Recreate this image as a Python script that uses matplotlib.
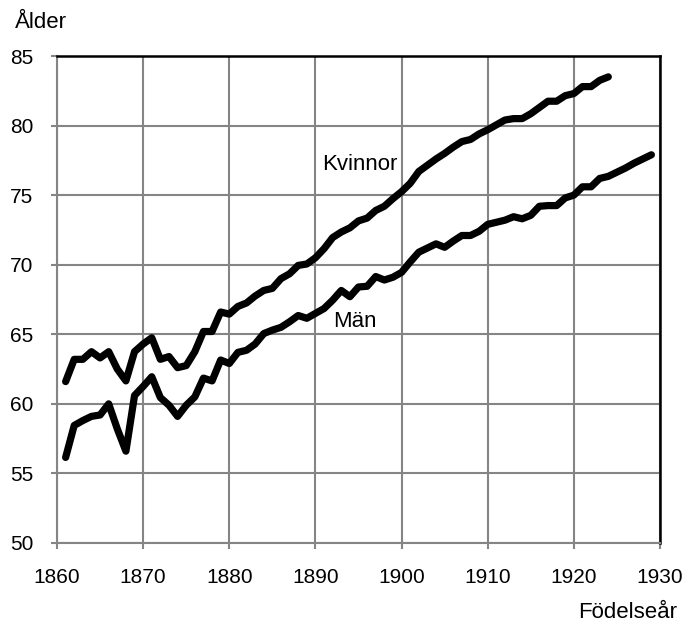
import matplotlib
matplotlib.use("Agg")
import matplotlib.pyplot as plt
import numpy as np

plt.rcParams['font.family'] = ['Liberation Sans', 'DejaVu Sans']

years_kvinnor = list(range(1861, 1925))
kvinnor = [61.6, 63.2, 63.2, 63.75, 63.3, 63.75, 62.5, 61.65, 63.75, 64.3,
           64.75, 63.2, 63.4, 62.6, 62.75, 63.75, 65.2, 65.2, 66.6, 66.45,
           67.0, 67.25, 67.75, 68.15, 68.3, 69.0, 69.35, 69.95, 70.05, 70.5,
           71.15, 71.95, 72.35, 72.65, 73.15, 73.35, 73.9, 74.2, 74.75, 75.25,
           75.85, 76.7, 77.15, 77.6, 78.0, 78.45, 78.85, 79.0, 79.4, 79.7,
           80.05, 80.4, 80.5, 80.5, 80.85, 81.3, 81.75, 81.75, 82.15, 82.3,
           82.8, 82.8, 83.25, 83.5]

years_man = list(range(1861, 1930))
man = [56.15, 58.45, 58.8, 59.1, 59.2, 60.0, 58.2, 56.6, 60.6, 61.25,
       61.95, 60.45, 59.9, 59.1, 59.9, 60.5, 61.85, 61.65, 63.15, 62.9,
       63.7, 63.85, 64.3, 65.05, 65.3, 65.5, 65.9, 66.35, 66.15, 66.5,
       66.85, 67.45, 68.15, 67.7, 68.4, 68.45, 69.15, 68.9, 69.1, 69.45,
       70.2, 70.9, 71.2, 71.5, 71.25, 71.7, 72.1, 72.1, 72.4, 72.9,
       73.05, 73.2, 73.45, 73.3, 73.55, 74.2, 74.25, 74.25, 74.8, 75.0,
       75.6, 75.6, 76.2, 76.35, 76.65, 76.95, 77.3, 77.6, 77.9]

x_ticks = [1860, 1870, 1880, 1890, 1900, 1910, 1920, 1930]
y_ticks = [50, 55, 60, 65, 70, 75, 80, 85]

W, H = 685, 625
fig = plt.figure(figsize=(W / 100, H / 100), dpi=100)
ax = fig.add_axes([57 / W, 1 - 543 / H, (660 - 57) / W, (543 - 56) / H])

grid_col = '#858585'
ax.plot(years_kvinnor, kvinnor, color='black', lw=5.2, solid_joinstyle='round', solid_capstyle='round', zorder=3)
ax.plot(years_man, man, color='black', lw=5.2, solid_joinstyle='round', solid_capstyle='round', zorder=3)

ax.set_xlim(1860, 1930)
ax.set_ylim(50, 85)
ax.set_xticks(x_ticks)
ax.set_yticks(y_ticks)
ax.grid(True, color=grid_col, lw=1.5)
ax.set_axisbelow(True)

for s in ['left', 'bottom']:
    ax.spines[s].set_color(grid_col)
    ax.spines[s].set_linewidth(1.5)
for s in ['top', 'right']:
    ax.spines[s].set_color('black')
    ax.spines[s].set_linewidth(1.8)

ax.tick_params(axis='both', direction='out', length=4, width=1.5, color=grid_col, labelsize=15)
ax.tick_params(axis='y', pad=13)
ax.tick_params(axis='x', pad=14)

ax.text(1890.8, 77.2, 'Kvinnor', fontsize=16, ha='left', va='center')
ax.text(1892.0, 65.9, 'Män', fontsize=16, ha='left', va='center')

fig.text(15 / W, 1 - 23 / H, 'Ålder', fontsize=16, ha='left', va='center')
fig.text(677 / W, 1 - 613 / H, 'Födelseår', fontsize=16, ha='right', va='center')

fig.savefig('out.png', dpi=100)
